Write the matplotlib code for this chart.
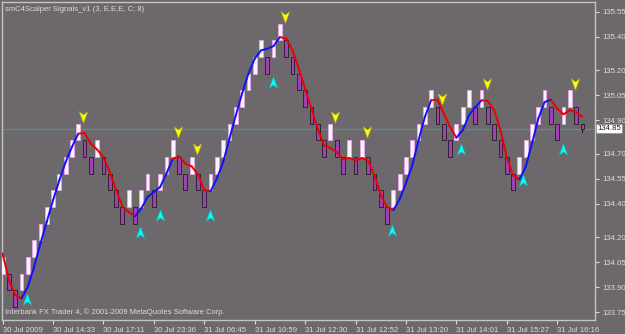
import numpy as np
import matplotlib
matplotlib.use("Agg")
import matplotlib.pyplot as plt
from matplotlib.path import Path
from matplotlib.collections import LineCollection

plt.rcParams['font.family'] = ['Liberation Sans', 'DejaVu Sans']

# renko bricks (open / close), 0.10 box
brick_open = [133.98, 133.98, 133.88, 133.88, 133.98, 134.08, 134.18, 134.28, 134.38, 134.48,
              134.58, 134.68, 134.78, 134.78, 134.68, 134.68, 134.68, 134.58, 134.48, 134.38,
              134.38, 134.38, 134.38, 134.48, 134.48, 134.48, 134.58, 134.68, 134.68, 134.58,
              134.58, 134.58, 134.48, 134.48, 134.58, 134.68, 134.78, 134.88, 134.98, 135.08,
              135.18, 135.28, 135.28, 135.28, 135.38, 135.38, 135.28, 135.18, 135.08, 134.98,
              134.88, 134.78, 134.78, 134.78, 134.68, 134.68, 134.68, 134.68, 134.68, 134.58,
              134.48, 134.38, 134.38, 134.48, 134.58, 134.68, 134.78, 134.88, 134.98, 134.98,
              134.88, 134.78, 134.78, 134.88, 134.98, 134.98, 134.98, 134.98, 134.88, 134.78,
              134.68, 134.58, 134.58, 134.68, 134.78, 134.88, 134.98, 134.98, 134.88, 134.88,
              134.98, 134.98, 134.88]
brick_close = [134.08, 133.88, 133.78, 133.98, 134.08, 134.18, 134.28, 134.38, 134.48, 134.58,
               134.68, 134.78, 134.88, 134.68, 134.58, 134.78, 134.58, 134.48, 134.38, 134.28,
               134.48, 134.28, 134.48, 134.58, 134.38, 134.58, 134.68, 134.78, 134.58, 134.48,
               134.68, 134.48, 134.38, 134.58, 134.68, 134.78, 134.88, 134.98, 135.08, 135.18,
               135.28, 135.38, 135.18, 135.38, 135.48, 135.28, 135.18, 135.08, 134.98, 134.88,
               134.78, 134.68, 134.88, 134.68, 134.58, 134.78, 134.58, 134.78, 134.58, 134.48,
               134.38, 134.28, 134.48, 134.58, 134.68, 134.78, 134.88, 134.98, 135.08, 134.88,
               134.78, 134.68, 134.88, 134.98, 135.08, 134.88, 135.08, 134.88, 134.78, 134.68,
               134.58, 134.48, 134.68, 134.78, 134.88, 134.98, 135.08, 134.88, 134.78, 134.98,
               135.08, 134.88, 134.85]
last_low = 134.83

# smoothed signal line, one value per brick
signal = [134.102, 133.942, 133.852, 133.832, 133.902, 134.021, 134.161, 134.291, 134.421, 134.540,
          134.650, 134.740, 134.820, 134.824, 134.760, 134.724, 134.680, 134.590, 134.485, 134.385,
          134.351, 134.325, 134.371, 134.440, 134.470, 134.500, 134.581, 134.670, 134.684, 134.640,
          134.624, 134.576, 134.481, 134.475, 134.551, 134.650, 134.790, 134.930, 135.060, 135.179,
          135.269, 135.319, 135.329, 135.345, 135.399, 135.389, 135.319, 135.209, 135.090, 134.970,
          134.850, 134.750, 134.734, 134.710, 134.666, 134.674, 134.660, 134.674, 134.660, 134.570,
          134.451, 134.381, 134.361, 134.427, 134.523, 134.630, 134.780, 134.920, 135.020, 135.024,
          134.940, 134.860, 134.796, 134.840, 134.930, 134.979, 135.020, 135.015, 134.960, 134.840,
          134.680, 134.570, 134.545, 134.620, 134.760, 134.910, 135.009, 135.024, 134.970, 134.936,
          134.960, 134.949, 134.920]
# trend state per brick: b = blue (up), r = red (down)
trend = ("rrrr" + "b" * 9 + "r" * 9 + "b" * 6 + "r" * 6 + "b" * 11 + "r" * 18 +
         "b" * 6 + "rrrr" + "bbbb" + "r" * 6 + "b" * 5 + "r" * 5)

sell_x = [12.8, 27.8, 30.8, 44.8, 52.8, 57.8, 69.8, 76.8, 90.8]
sell_y = [134.92, 134.83, 134.73, 135.52, 134.92, 134.83, 135.03, 135.12, 135.12]
buy_x = [3.8, 21.8, 24.9, 32.9, 42.9, 61.8, 72.8, 82.6, 88.9]
buy_y = [133.83, 134.23, 134.33, 134.33, 135.13, 134.24, 134.73, 134.54, 134.73]

bid = 134.85
price_ticks = [135.55, 135.40, 135.20, 135.05, 134.90, 134.70, 134.55, 134.40, 134.20, 134.05, 133.90, 133.75]
time_ticks = [0, 8, 16, 24, 32, 40, 48, 56, 64, 72, 80, 88]
time_labels = ["30 Jul 2009", "30 Jul 14:33", "30 Jul 17:11", "30 Jul 23:36", "31 Jul 06:45",
               "31 Jul 10:59", "31 Jul 12:30", "31 Jul 12:52", "31 Jul 13:20", "31 Jul 14:01",
               "31 Jul 15:27", "31 Jul 16:16"]

BG = '#6c686c'
FG = '#dcdcdc'

fig = plt.figure(figsize=(6.25, 3.34), dpi=100, facecolor=BG)
ax = fig.add_axes([2.3 / 625, 14 / 334, 592.7 / 625, 318.5 / 334], facecolor=BG)

x = np.arange(len(brick_open))
o = np.array(brick_open)
c = np.array(brick_close)
up = c > o

ax.axhline(bid, color='#5d8d8a', lw=1, zorder=1)

# wick of the forming brick
ax.plot([x[-1], x[-1]], [last_low, o[-1]], color='#1e1e1e', lw=0.8, zorder=2)
ax.bar(x[up], (c - o)[up], bottom=o[up], width=0.6, color='#fff0ff',
       edgecolor='#e6a8e6', lw=0.6, zorder=3)
ax.bar(x[~up], (o - c)[~up], bottom=c[~up], width=0.6, color='#a040b4',
       edgecolor='#1e1e1e', lw=0.6, zorder=3)

# signal line
pts = np.column_stack([x, signal])
segs = [pts[i:i + 2] for i in range(len(pts) - 1)]
cols = ['#1010ff' if trend[i + 1] == 'b' else '#ee0000' for i in range(len(pts) - 1)]
ax.add_collection(LineCollection(segs, colors=cols, linewidths=1.4, zorder=4,
                                 capstyle='round', joinstyle='round'))

# arrows
arr_up = Path([(0, 1), (0.75, -1), (0, -0.45), (-0.75, -1), (0, 1)],
              [Path.MOVETO, Path.LINETO, Path.LINETO, Path.LINETO, Path.CLOSEPOLY])
arr_dn = Path([(0, -1), (0.75, 1), (0, 0.45), (-0.75, 1), (0, -1)],
              [Path.MOVETO, Path.LINETO, Path.LINETO, Path.LINETO, Path.CLOSEPOLY])
ax.plot(sell_x, sell_y, ls='none', marker=arr_dn, ms=8.5, mfc='#ffff00',
        mec='#a0a028', mew=0.5, zorder=5)
ax.plot(buy_x, buy_y, ls='none', marker=arr_up, ms=8.5, mfc='#00ffff',
        mec='#30a0a0', mew=0.5, zorder=5)

ax.set_xlim(-0.05, 94.0)
ax.set_ylim(133.703, 135.612)

for s in ax.spines.values():
    s.set_color('#c4c4c4')
    s.set_linewidth(1)

ax.yaxis.tick_right()
ax.set_yticks(price_ticks)
ax.set_yticklabels(["%.2f" % p for p in price_ticks])
ax.set_xticks(time_ticks)
ax.set_xticklabels(time_labels)
ax.tick_params(colors=FG, labelcolor=FG, labelsize=5.6, length=3, width=0.8, pad=2)
for lbl in ax.get_xticklabels():
    lbl.set_horizontalalignment('left')

ax.text(1.004, bid, "%.2f" % bid, transform=ax.get_yaxis_transform(), fontsize=5.6,
        color='#202020', va='center', ha='left',
        bbox=dict(boxstyle='square,pad=0.15', fc='white', ec='#909090', lw=0.5),
        zorder=6, clip_on=False)

ax.text(0.005, 0.985, "smC4Scalper Signals_v1 (3, E,E,E, C; 8)", transform=ax.transAxes,
        fontsize=5.5, color=FG, va='top', ha='left')
ax.text(0.005, 0.012, "Interbank FX Trader 4, \u00a9 2001-2009 MetaQuotes Software Corp.",
        transform=ax.transAxes, fontsize=5.5, color=FG, va='bottom', ha='left')

fig.savefig("out.png", dpi=100, facecolor=BG)
